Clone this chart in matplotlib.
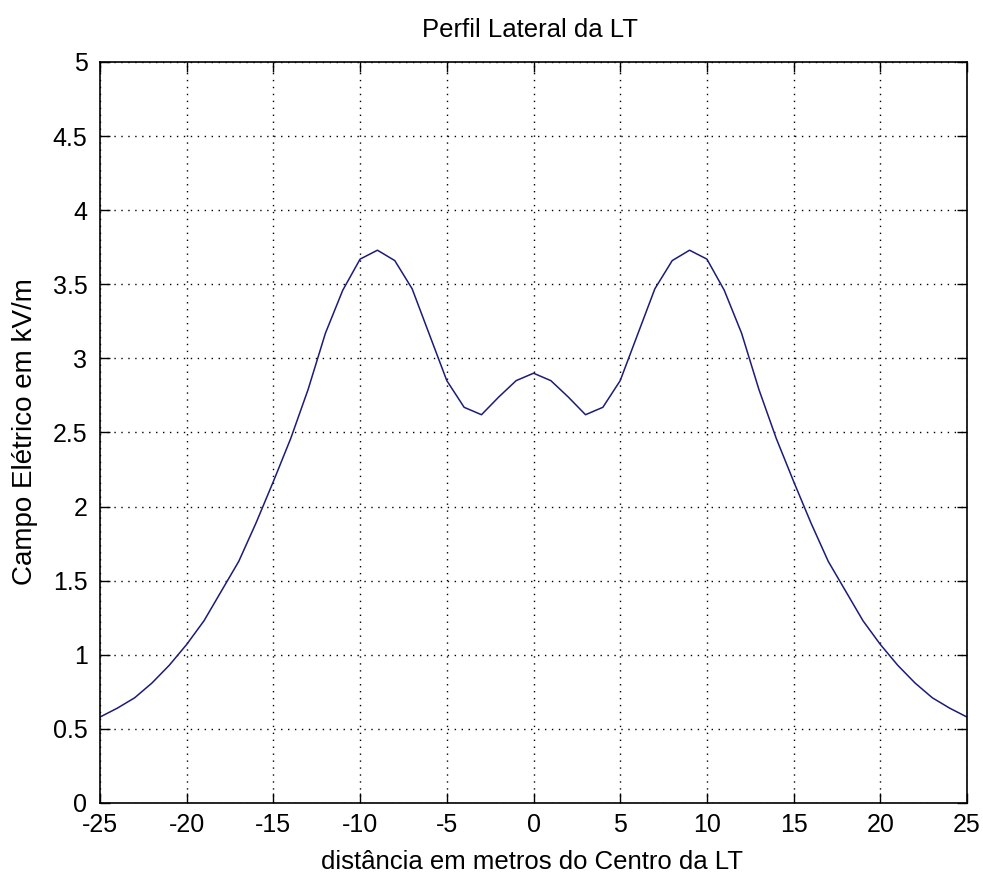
import numpy as np
import matplotlib
matplotlib.use("Agg")
import matplotlib.pyplot as plt

plt.rcParams["font.family"] = ["Liberation Sans", "DejaVu Sans"]
plt.rcParams["axes.unicode_minus"] = False

# Distance from the line centre (m) and field values (kV/m)
dist_half = [0, 1, 2, 3, 4, 5, 6, 7, 8, 9, 10, 11, 12, 13, 14, 15, 16, 17, 18, 19, 20, 21, 22, 23, 24, 25]
campo_half = [2.90, 2.85, 2.74, 2.62, 2.67, 2.85, 3.16, 3.47, 3.66, 3.73, 3.67, 3.46, 3.17, 2.79,
              2.46, 2.17, 1.89, 1.63, 1.43, 1.23, 1.07, 0.93, 0.81, 0.71, 0.64, 0.58]

# profile is symmetric about the centre
dist = [-d for d in dist_half[:0:-1]] + dist_half
campo = campo_half[:0:-1] + campo_half

W, H = 983, 877
fig = plt.figure(figsize=(W / 100, H / 100), dpi=100)
ax = fig.add_axes([100 / W, 1 - 803 / H, 867 / W, 741 / H])

ax.plot(dist, campo, color="#1c1c78", linewidth=1.1)

ax.set_xlim(-25, 25)
ax.set_ylim(0, 5)
ax.set_xticks(np.arange(-25, 26, 5))
ax.set_yticks(np.arange(0, 5.01, 0.5))
ax.set_yticklabels(["0", "0.5", "1", "1.5", "2", "2.5", "3", "3.5", "4", "4.5", "5"])

ax.grid(True, color="black", linestyle=(0, (1, 4)), linewidth=1.0)
ax.tick_params(direction="in", top=True, right=True, length=7, width=1,
               labelsize=18)
ax.tick_params(axis="x", pad=7)
ax.tick_params(axis="y", pad=9)
for sp in ax.spines.values():
    sp.set_linewidth(1.2)

fig.text(530 / W, 1 - 30 / H, "Perfil Lateral da LT", fontsize=18.5,
         ha="center", va="center")
fig.text(532 / W, 1 - 862 / H, "distância em metros do Centro da LT", fontsize=18.5,
         ha="center", va="center")
fig.text(25 / W, 1 - 432 / H, "Campo Elétrico em kV/m", fontsize=20,
         ha="center", va="center", rotation=90)

plt.savefig("out.png", dpi=100)
plt.close()
